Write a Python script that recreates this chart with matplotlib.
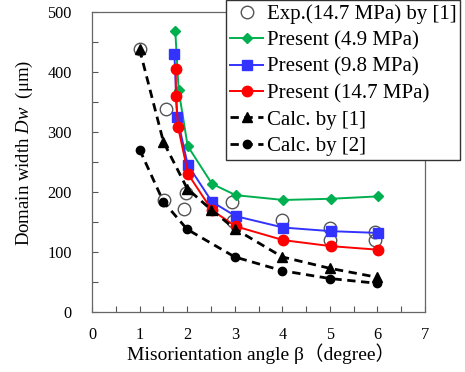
import matplotlib
matplotlib.use("Agg")
import matplotlib.pyplot as plt
from matplotlib.ticker import MultipleLocator

plt.rcParams['font.family'] = ['Liberation Serif', 'Noto Sans CJK JP']
plt.rcParams['mathtext.fontset'] = 'custom'
plt.rcParams['mathtext.it'] = 'Liberation Serif:italic'
plt.rcParams['mathtext.rm'] = 'Liberation Serif'

# Experimental data (14.7 MPa) by [1]
exp_x = [1.0, 1.55, 1.52, 1.93, 1.98, 2.95, 2.97, 4.0, 5.0, 5.0, 5.95, 5.95]
exp_y = [438, 338, 187, 172, 199, 184, 152, 154, 141, 121, 134, 120]

# Present model, three stresses
p49_x = [1.75, 1.82, 2.01, 2.52, 3.02, 4.02, 5.02, 6.02]
p49_y = [468, 370, 277, 214, 195, 187, 189, 193]

p98_x = [1.73, 1.79, 2.01, 2.52, 3.02, 4.02, 5.02, 6.02]
p98_y = [431, 325, 246, 184, 160, 141, 135, 132]

p147_x = [1.76, 1.76, 1.81, 2.02, 2.52, 3.02, 4.02, 5.02, 6.02]
p147_y = [405, 360, 308, 230, 170, 143, 120, 110, 104]

# Calculations by [1] and [2]
c1_x = [1.0, 1.5, 2.0, 2.5, 3.0, 4.0, 5.0, 6.0]
c1_y = [438, 284, 206, 171, 139, 92, 73, 58]

c2_x = [1.0, 1.5, 2.0, 3.0, 4.0, 5.0, 6.0]
c2_y = [271, 184, 138, 92, 69, 56, 48]

fig = plt.figure(figsize=(4.65, 3.72), dpi=100)
ax = fig.add_axes([0.198, 0.161, 0.716, 0.806])

ax.plot(exp_x, exp_y, ls='none', marker='o', ms=9, mfc='none', mec='#555555',
        mew=1.0, label='Exp.(14.7 MPa) by [1]', zorder=2)
ax.plot(p49_x, p49_y, color='#00b050', lw=1.4, marker='D', ms=5.5,
        label='Present (4.9 MPa)', zorder=3)
ax.plot(p98_x, p98_y, color='#3333ff', lw=1.4, marker='s', ms=6.5,
        label='Present (9.8 MPa)', zorder=3)
ax.plot(p147_x, p147_y, color='#ff0000', lw=1.4, marker='o', ms=7.5,
        label='Present (14.7 MPa)', zorder=4)
ax.plot(c1_x, c1_y, color='black', lw=2.0, ls=(0, (3, 2)), marker='^', ms=7,
        label='Calc. by [1]', zorder=5)
ax.plot(c2_x, c2_y, color='black', lw=2.0, ls=(0, (3, 2)), marker='o', ms=6,
        label='Calc. by [2]', zorder=5)

ax.set_xlim(0, 7)
ax.set_ylim(0, 500)
ax.xaxis.set_major_locator(MultipleLocator(1))
ax.xaxis.set_minor_locator(MultipleLocator(0.5))
ax.yaxis.set_major_locator(MultipleLocator(100))
ax.yaxis.set_minor_locator(MultipleLocator(50))
ax.tick_params(which='both', direction='in', length=4, width=0.8,
               color='#555555', labelsize=11.7)
ax.tick_params(axis='x', pad=10.5)
ax.tick_params(axis='y', pad=14.5)

for s in ax.spines.values():
    s.set_color('#666666')
    s.set_linewidth(0.9)

ax.set_xlabel('Misorientation angle β（degree）', fontsize=14)
ax.set_ylabel(r'Domain width $\mathit{Dw}$  (μm)', fontsize=13.5)
ax.xaxis.set_label_coords(0.507, -0.105)
ax.yaxis.set_label_coords(-0.17, 0.53)

leg = ax.legend(loc='upper right', bbox_to_anchor=(0.99, 1.0),
                bbox_transform=fig.transFigure, borderaxespad=0,
                fontsize=15, frameon=True, fancybox=False, framealpha=1,
                edgecolor='#333333', labelspacing=0.33, handlelength=1.6,
                handletextpad=0.15, borderpad=0.2)
leg.get_frame().set_linewidth(1.0)

fig.savefig('out.png', dpi=100)
